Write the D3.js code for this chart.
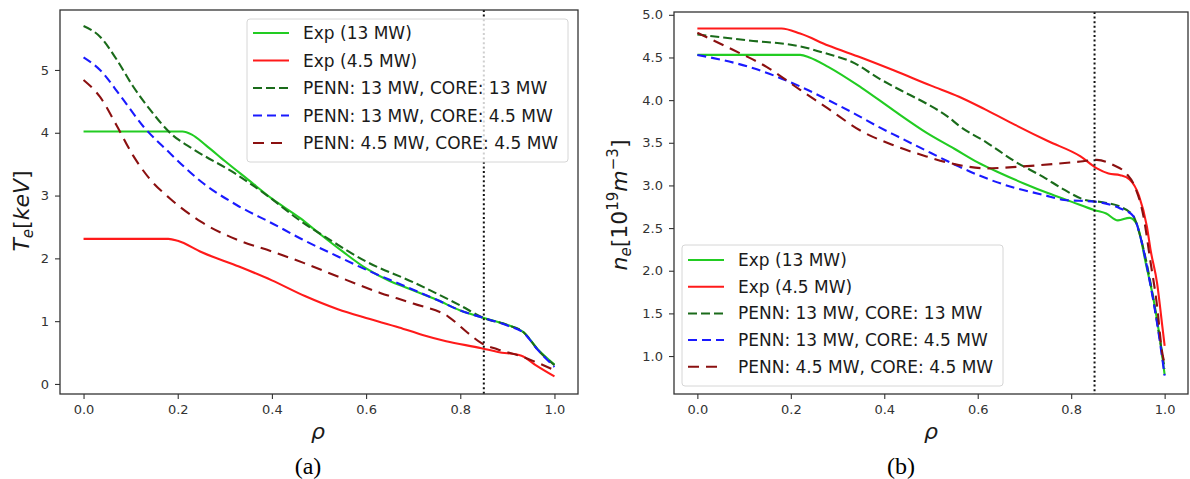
<!DOCTYPE html>
<html><head><meta charset="utf-8">
<script src="https://cdn.jsdelivr.net/npm/d3@7"></script>
<style>
html,body{margin:0;padding:0;background:#fff;}
text{font-family:"DejaVu Sans",sans-serif;}
</style></head>
<body><svg id="c" width="1190" height="479"></svg>
<script>
// ---------- DATA ----------
const xTicks = [0, 0.2, 0.4, 0.6, 0.8, 1.0];
const teTicks = [0, 1, 2, 3, 4, 5];
const neTicks = [1.0, 1.5, 2.0, 2.5, 3.0, 3.5, 4.0, 4.5, 5.0];
const seriesNames = ["Exp (13 MW)", "Exp (4.5 MW)", "PENN: 13 MW, CORE: 13 MW", "PENN: 13 MW, CORE: 4.5 MW", "PENN: 4.5 MW, CORE: 4.5 MW"];
const pedestalRho = 0.85;

// Te [keV] vs rho
const teExp13 = [[0,4.02],[0.1,4.02],[0.21,4.02],[0.23,3.97],[0.26,3.80],[0.3,3.55],[0.35,3.25],[0.4,2.95],[0.46,2.64],[0.5,2.40],[0.55,2.11],[0.6,1.84],[0.65,1.64],[0.69,1.52],[0.75,1.34],[0.8,1.17],[0.85,1.05],[0.9,0.94],[0.935,0.82],[0.965,0.55],[1.0,0.31]];
const teExp45 = [[0,2.31],[0.1,2.31],[0.18,2.31],[0.2,2.28],[0.25,2.10],[0.33,1.87],[0.4,1.65],[0.47,1.40],[0.54,1.19],[0.6,1.05],[0.67,0.90],[0.72,0.78],[0.77,0.68],[0.845,0.57],[0.88,0.51],[0.93,0.45],[0.96,0.30],[1.0,0.12]];
const tePenn1313 = [[0,5.70],[0.035,5.53],[0.07,5.17],[0.105,4.74],[0.14,4.38],[0.185,3.99],[0.235,3.73],[0.32,3.36],[0.39,3.00],[0.46,2.60],[0.52,2.31],[0.6,1.95],[0.7,1.62],[0.8,1.25],[0.85,1.05],[0.9,0.94],[0.935,0.82],[0.965,0.54],[1.0,0.30]];
const tePenn1345 = [[0,5.20],[0.035,5.0],[0.08,4.57],[0.127,4.10],[0.18,3.70],[0.25,3.22],[0.325,2.85],[0.4,2.56],[0.465,2.30],[0.54,2.03],[0.6,1.82],[0.675,1.58],[0.75,1.34],[0.8,1.17],[0.85,1.05],[0.9,0.93],[0.935,0.81],[0.965,0.54],[1.0,0.27]];
const tePenn4545 = [[0,4.84],[0.035,4.57],[0.07,4.12],[0.105,3.64],[0.14,3.27],[0.184,2.95],[0.25,2.58],[0.325,2.30],[0.4,2.11],[0.47,1.92],[0.54,1.71],[0.63,1.45],[0.7,1.28],[0.775,1.07],[0.815,0.82],[0.845,0.65],[0.88,0.55],[0.93,0.44],[0.96,0.35],[1.0,0.22]];

// ne [1e19 m^-3] vs rho
const neExp13 = [[0,4.53],[0.1,4.53],[0.22,4.53],[0.24,4.50],[0.28,4.39],[0.35,4.15],[0.42,3.88],[0.49,3.62],[0.55,3.43],[0.6,3.27],[0.65,3.14],[0.7,3.02],[0.75,2.91],[0.8,2.81],[0.85,2.71],[0.875,2.67],[0.9,2.59],[0.925,2.62],[0.94,2.55],[0.96,2.08],[0.98,1.55],[0.993,1.08],[1.0,0.78]];
const neExp45 = [[0,4.84],[0.1,4.84],[0.18,4.84],[0.22,4.78],[0.28,4.64],[0.35,4.50],[0.42,4.35],[0.5,4.17],[0.56,4.04],[0.62,3.88],[0.68,3.71],[0.75,3.52],[0.82,3.34],[0.855,3.20],[0.88,3.14],[0.905,3.12],[0.925,3.07],[0.945,2.88],[0.962,2.52],[0.97,2.24],[0.984,1.85],[0.995,1.35],[1.0,1.12]];
const nePenn1313 = [[0,4.77],[0.11,4.70],[0.22,4.63],[0.28,4.54],[0.33,4.45],[0.39,4.25],[0.43,4.13],[0.49,3.96],[0.535,3.81],[0.56,3.70],[0.62,3.50],[0.68,3.28],[0.74,3.10],[0.785,2.95],[0.83,2.83],[0.87,2.80],[0.905,2.75],[0.933,2.64],[0.948,2.40],[0.97,1.85],[0.985,1.36],[1.0,0.85]];
const nePenn1345 = [[0,4.53],[0.11,4.39],[0.22,4.16],[0.28,4.00],[0.33,3.86],[0.39,3.68],[0.43,3.57],[0.5,3.38],[0.56,3.22],[0.62,3.08],[0.68,2.97],[0.74,2.89],[0.785,2.83],[0.85,2.81],[0.905,2.73],[0.933,2.64],[0.948,2.40],[0.969,1.85],[0.984,1.38],[1.0,0.77]];
const nePenn4545 = [[0,4.79],[0.076,4.59],[0.148,4.39],[0.22,4.12],[0.28,3.90],[0.35,3.64],[0.42,3.47],[0.49,3.34],[0.55,3.25],[0.62,3.20],[0.69,3.22],[0.76,3.25],[0.82,3.28],[0.855,3.30],[0.89,3.24],[0.918,3.14],[0.935,3.0],[0.955,2.63],[0.969,2.13],[0.984,1.58],[0.994,1.07],[1.0,0.91]];

// ---------- STYLE ----------
const styles = [
  {color:"#22cc22", dash:null},
  {color:"#ff1a1a", dash:null},
  {color:"#1a6b1a", dash:"9,4"},
  {color:"#1a1aff", dash:"9,5"},
  {color:"#8b1010", dash:"11,7"}
];

const svg = d3.select("#c");

function panel(cfg){
  const x = d3.scaleLinear().domain([-0.05,1.05]).range([cfg.left, cfg.right]);
  const y = d3.scaleLinear().domain(cfg.ydom).range([cfg.bottom, cfg.top]);
  const g = svg.append("g");

  const xa = g.append("g").attr("transform",`translate(0,${cfg.bottom})`)
    .call(d3.axisBottom(x).tickValues(xTicks).tickFormat(d3.format(".1f")).tickSize(5).tickPadding(6));
  const ya = g.append("g").attr("transform",`translate(${cfg.left},0)`)
    .call(d3.axisLeft(y).tickValues(cfg.yticks).tickFormat(cfg.yfmt).tickSize(5).tickPadding(6));
  [xa,ya].forEach(a=>{
    a.select(".domain").remove();
    a.selectAll(".tick line").attr("stroke","#333").attr("stroke-width",1.1);
    a.selectAll(".tick text").attr("fill","#333").style("font-size","13px").style("font-family","DejaVu Sans");
  });

  const line = d3.line().x(d=>x(d[0])).y(d=>y(d[1])).curve(d3.curveMonotoneX);
  const clip = "clip"+cfg.id;
  g.append("clipPath").attr("id",clip).append("rect")
    .attr("x",cfg.left).attr("y",cfg.top).attr("width",cfg.right-cfg.left).attr("height",cfg.bottom-cfg.top);
  const lg = g.append("g").attr("clip-path",`url(#${clip})`);
  cfg.series.forEach((s,i)=>{
    lg.append("path").attr("d",line(s)).attr("fill","none")
      .attr("stroke",styles[i].color).attr("stroke-width",2.1)
      .attr("stroke-dasharray",styles[i].dash);
  });
  lg.append("line").attr("x1",x(pedestalRho)).attr("x2",x(pedestalRho))
    .attr("y1",cfg.top).attr("y2",cfg.bottom)
    .attr("stroke","#111").attr("stroke-width",2).attr("stroke-dasharray","2,2.6");

  g.append("rect").attr("x",cfg.left).attr("y",cfg.top)
    .attr("width",cfg.right-cfg.left).attr("height",cfg.bottom-cfg.top)
    .attr("fill","none").attr("stroke","#333").attr("stroke-width",1.3);

  const L = cfg.legend;
  const leg = g.append("g");
  leg.append("rect").attr("x",L.x).attr("y",L.y).attr("width",L.w).attr("height",L.h)
    .attr("rx",3).attr("fill","#fff").attr("fill-opacity",0.8)
    .attr("stroke","#d6d6d6").attr("stroke-width",1);
  seriesNames.forEach((name,i)=>{
    const cy = L.y + L.first + i*L.step;
    leg.append("line").attr("x1",L.x+6).attr("x2",L.x+42).attr("y1",cy).attr("y2",cy)
      .attr("stroke",styles[i].color).attr("stroke-width",2).attr("stroke-dasharray",styles[i].dash);
    leg.append("text").attr("x",L.x+56).attr("y",cy+6).text(name)
      .attr("fill","#1a1a1a").style("font-size","17px");
  });

  g.append("text").attr("x",(cfg.left+cfg.right)/2 + (cfg.id==="a"? -1: 0)).attr("y",439)
    .attr("text-anchor","middle").style("font-style","italic").style("font-size","22px")
    .attr("fill","#1a1a1a").text("ρ");

  g.append("text").attr("x",cfg.capx).attr("y",474).attr("text-anchor","middle")
    .style("font-family","'Liberation Serif','DejaVu Serif',serif").style("font-size","24px")
    .attr("fill","#000").text(cfg.caption);
  return {g,x,y};
}

panel({id:"a", left:60, right:578, top:10, bottom:394, ydom:[-0.16,5.955],
  yticks:teTicks, yfmt:d3.format("d"),
  series:[teExp13, teExp45, tePenn1313, tePenn1345, tePenn4545],
  legend:{x:247, y:19, w:321, h:143, first:14, step:27.5},
  caption:"(a)", capx:308});
panel({id:"b", left:674, right:1188, top:12, bottom:394, ydom:[0.555,5.033],
  yticks:neTicks, yfmt:d3.format(".1f"),
  series:[neExp13, neExp45, nePenn1313, nePenn1345, nePenn4545],
  legend:{x:682, y:245, w:321, h:141, first:15, step:26.7},
  caption:"(b)", capx:901});

const yl1 = svg.append("text").attr("transform","translate(29,211) rotate(-90)")
  .attr("text-anchor","middle").attr("fill","#1a1a1a").style("font-size","22px");
yl1.append("tspan").style("font-style","italic").text("T");
yl1.append("tspan").style("font-style","italic").style("font-size","15px").attr("dy",4).text("e");
yl1.append("tspan").attr("dy",-4).text("[");
yl1.append("tspan").style("font-style","italic").text("keV");
yl1.append("tspan").text("]");

const yl2 = svg.append("text").attr("transform","translate(627,205) rotate(-90)")
  .attr("text-anchor","middle").attr("fill","#1a1a1a").style("font-size","22px");
yl2.append("tspan").style("font-style","italic").text("n");
yl2.append("tspan").style("font-style","italic").style("font-size","15px").attr("dy",4).text("e");
yl2.append("tspan").attr("dy",-4).text("[10");
yl2.append("tspan").style("font-size","15px").attr("dy",-9).text("19");
yl2.append("tspan").style("font-style","italic").attr("dy",9).text("m");
yl2.append("tspan").style("font-size","15px").attr("dy",-9).text("−3");
yl2.append("tspan").attr("dy",9).text("]");
</script></body></html>
